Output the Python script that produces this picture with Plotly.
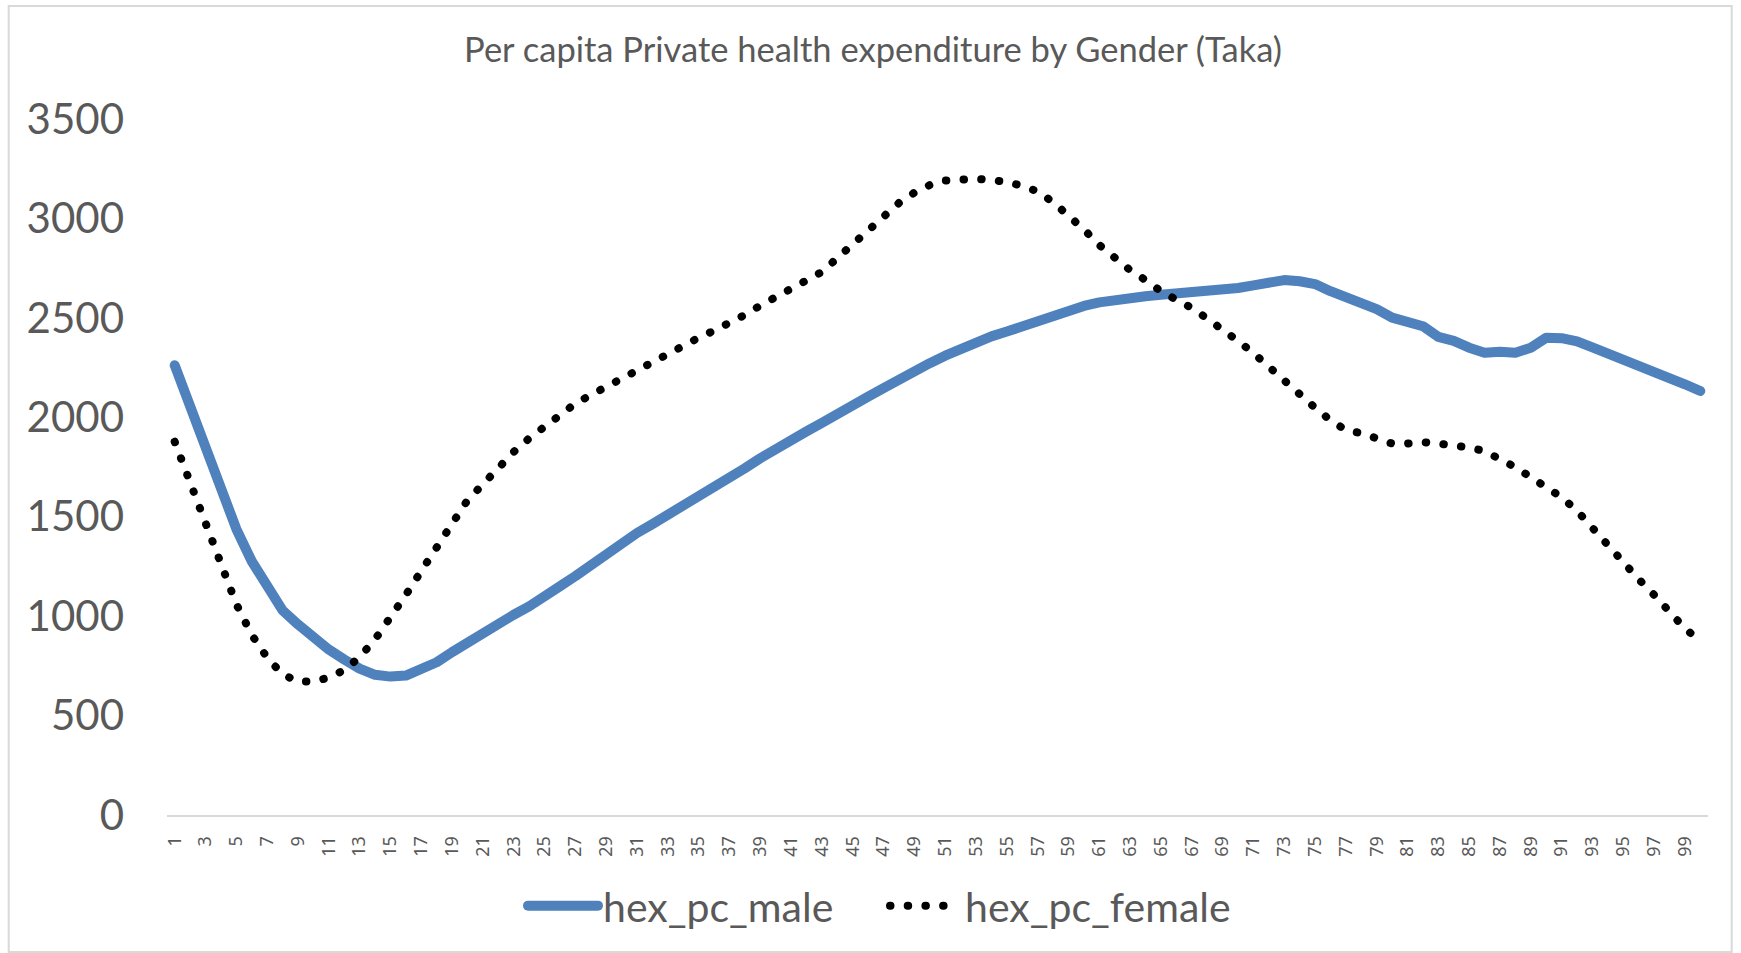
import plotly.graph_objects as go

ages = [str(i) for i in range(1, 101)]

hex_pc_male = [
    2262, 2052, 1840, 1630, 1438, 1276, 1140, 1029, 958, 893,
    832, 782, 736, 705, 696, 701, 731, 768, 819, 867,
    922, 964, 1007, 1049, 1094, 1150, 1201, 1258, 1314, 1370,
    1418, 1463, 1508, 1555, 1602, 1650, 1697, 1744, 1794, 1843,
    1886, 1929, 1972, 2012, 2057, 2104, 2147, 2193, 2240, 2272,
    2310, 2346, 2377, 2407, 2431, 2458, 2487, 2515, 2537, 2560,
    2578, 2591, 2602, 2609, 2616, 2621, 2625, 2639, 2647, 2650,
    2663, 2677, 2690, 2684, 2670, 2634, 2604, 2582, 2544, 2501,
    2478, 2458, 2404, 2384, 2350, 2325, 2330, 2325, 2350, 2400,
    2398, 2382, 2352, 2323, 2294, 2262, 2229, 2197, 2166, 2132,
]

hex_pc_female = [
    1877, 1672, 1461, 1246, 1060, 906, 791, 708, 671, 671,
    691, 729, 794, 883, 991, 1107, 1227, 1347, 1466, 1583,
    1663, 1752, 1826, 1894, 1956, 2017, 2069, 2112, 2154, 2193,
    2233, 2278, 2319, 2359, 2400, 2436, 2474, 2515, 2562, 2607,
    2647, 2688, 2731, 2801, 2870, 2952, 3021, 3078, 3130, 3168,
    3190, 3198, 3199, 3193, 3184, 3163, 3136, 3082, 3017, 2945,
    2866, 2798, 2740, 2690, 2634, 2591, 2550, 2496, 2445, 2384,
    2323, 2251, 2186, 2116, 2048, 1985, 1936, 1920, 1898, 1868,
    1868, 1875, 1868, 1859, 1848, 1830, 1794, 1749, 1699, 1654,
    1598, 1530, 1442, 1357, 1276, 1186, 1107, 1024, 938, 875,
]

y_ticks = [0, 500, 1000, 1500, 2000, 2500, 3000, 3500]
x_tick_labels = ages[::2]

title_text = "Per capita Private health expenditure by Gender (Taka)"

GRAY = "#595959"
FONT = "Lato, 'Noto Sans', sans-serif"

fig = go.Figure()
fig.add_trace(go.Scatter(
    x=ages, y=hex_pc_male, name="hex_pc_male", mode="lines",
    line=dict(color="#4F81BD", width=10),
))
fig.add_trace(go.Scatter(
    x=ages, y=hex_pc_female, name="hex_pc_female", mode="lines",
    line=dict(color="#000000", width=8, dash="0.5px,17.2px"),
))

W, H = 1741, 953
L, R, T, B = 167.3, 32.7, 119, 138

fig.update_layout(
    width=W, height=H, autosize=False,
    margin=dict(l=L, r=R, t=T, b=B, pad=0),
    paper_bgcolor="white", plot_bgcolor="white",
    font=dict(family=FONT, color=GRAY),
    title=dict(text=title_text, x=873 / W, xref="container", xanchor="center",
               y=(H - 50) / H, yref="container", yanchor="middle",
               font=dict(size=34.5, color=GRAY, family=FONT)),
    xaxis=dict(type="category", range=[-0.5, 99.5],
               tickmode="array", tickvals=x_tick_labels, ticktext=x_tick_labels,
               tickangle=-90, tickfont=dict(size=18, color=GRAY, family="'Noto Sans', sans-serif"),
               showgrid=False, showline=True, linecolor="#D9D9D9", linewidth=2,
               ticks="", ticklabelstandoff=12, zeroline=False, fixedrange=True),
    yaxis=dict(range=[0, 3500], tickmode="array", tickvals=y_ticks,
               tickfont=dict(size=42, color=GRAY, family=FONT),
               showgrid=False, showline=False, zeroline=False, ticks="",
               ticklabelstandoff=42, fixedrange=True),
    legend=dict(orientation="h", x=523 / W, xref="container", xanchor="left",
                y=(H - 906) / H, yref="container", yanchor="middle",
                font=dict(size=41, color=GRAY, family=FONT),
                bgcolor="rgba(0,0,0,0)", itemwidth=70,
                entrywidth=277, entrywidthmode="pixels"),
    showlegend=True,
)

# chart outer border
fig.add_shape(type="rect", xref="paper", yref="paper",
              x0=(9 - L) / (W - L - R), x1=(1732 - L) / (W - L - R),
              y0=(H - B - 952) / (H - T - B), y1=(H - B - 6) / (H - T - B),
              line=dict(color="#D9D9D9", width=2), fillcolor="rgba(0,0,0,0)", layer="below")

post = """
document.body.style.margin='0';
var gd = document.getElementById('{plot_id}');
function fixcaps(){
  gd.querySelectorAll('path.js-line').forEach(function(p){
    p.style.strokeLinecap='round'; p.style.strokeLinejoin='round';
  });
}
fixcaps();
gd.on('plotly_afterplot', fixcaps);
"""

fig.write_html("out.html", post_script=post, config={"displayModeBar": False})
